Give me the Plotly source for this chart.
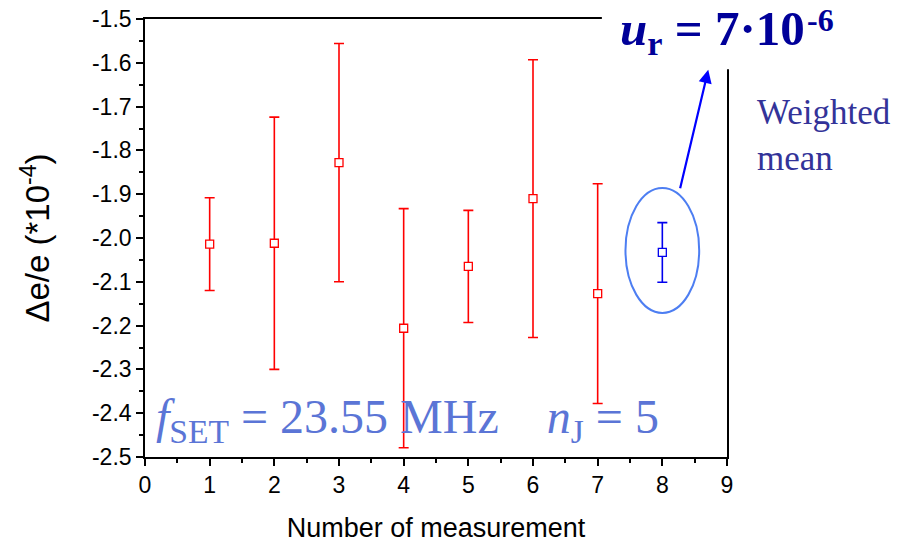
import plotly.graph_objects as go

meas_x = [1, 2, 3, 4, 5, 6, 7]
meas_y = [-2.014, -2.012, -1.828, -2.206, -2.065, -1.910, -2.127]
meas_err = [0.106, 0.288, 0.272, 0.273, 0.128, 0.317, 0.251]
mean_x = [8]
mean_y = [-2.033]
mean_err = [0.068]

x_ticks = [0, 1, 2, 3, 4, 5, 6, 7, 8, 9]
x_ticktext = ["0", "1", "2", "3", "4", "5", "6", "7", "8", "9"]
y_ticks = [-2.5, -2.4, -2.3, -2.2, -2.1, -2.0, -1.9, -1.8, -1.7, -1.6, -1.5]
y_ticktext = ["-2.5", "-2.4", "-2.3", "-2.2", "-2.1", "-2.0", "-1.9", "-1.8", "-1.7", "-1.6", "-1.5"]

fig = go.Figure()
fig.add_trace(go.Scatter(
    x=meas_x, y=meas_y, mode="markers",
    error_y=dict(type="data", array=meas_err, color="#ff0000", thickness=1.6, width=5),
    marker=dict(symbol="square", size=8, color="white", line=dict(color="#ff0000", width=1.3)),
    showlegend=False))
fig.add_trace(go.Scatter(
    x=mean_x, y=mean_y, mode="markers",
    error_y=dict(type="data", array=mean_err, color="#0000ee", thickness=1.6, width=5),
    marker=dict(symbol="square", size=8, color="white", line=dict(color="#0000ee", width=1.3)),
    showlegend=False))

# ellipse around weighted mean
fig.add_shape(type="circle", xref="x", yref="y", x0=7.43, x1=8.57, y0=-2.171, y1=-1.886,
              line=dict(color="#4d7ef2", width=2))
# arrow
fig.add_annotation(x=8.71, y=-1.616, ax=8.27, ay=-1.890, xref="x", yref="y", axref="x", ayref="y",
                   showarrow=True, arrowhead=2, arrowsize=1.2, arrowwidth=2.2, arrowcolor="#0000ff", text="")

# white box hiding the top-right corner of the frame
fig.add_shape(type="rect", xref="paper", yref="paper", x0=0.785, x1=1.05, y0=0.885, y1=1.043,
              fillcolor="white", line=dict(width=0), layer="above")
fig.add_annotation(
    x=1.1357, y=1.043, xref="paper", yref="paper", xanchor="right", yanchor="top",
    text="<b><i>u</i><sub>r</sub> = 7·10</b>", showarrow=False,
    font=dict(family="Liberation Serif", size=49, color="#000099"), borderpad=0)
fig.add_annotation(
    x=1.135, y=1.04, xref="paper", yref="paper", xanchor="left", yanchor="top",
    text="<b>-6</b>", showarrow=False,
    font=dict(family="Liberation Serif", size=32, color="#000099"), borderpad=0)
fig.add_annotation(
    x=1.048, y=0.835, xref="paper", yref="paper", xanchor="left", yanchor="top", align="left",
    text="Weighted<br>mean", showarrow=False,
    font=dict(family="Liberation Serif", size=35, color="#333399"))
fig.add_annotation(
    x=0.015, y=0.012, xref="paper", yref="paper", xanchor="left", yanchor="bottom", align="left",
    text="<i>f</i><sub>SET</sub> = 23.55 MHz\u00a0\u00a0\u00a0\u00a0<i>n</i><sub>J</sub> = 5", showarrow=False,
    font=dict(family="Liberation Serif", size=48, color="#5b75d6"))

axis_common = dict(showline=True, linecolor="black", linewidth=1.6, mirror=True, ticks="outside",
                   ticklen=7, tickwidth=1.5, tickcolor="black", showgrid=False, zeroline=False,
                   automargin=False,
                   tickfont=dict(family="Liberation Sans", size=23, color="black"))
fig.update_xaxes(range=[0, 9], tickvals=x_ticks, ticktext=x_ticktext,
                 minor=dict(ticks="outside", dtick=0.5, ticklen=4, tickwidth=1.5, tickcolor="black"),
                 title=dict(text="Number of measurement", font=dict(family="Liberation Sans", size=27, color="black"), standoff=24),
                 **axis_common)
fig.update_yaxes(range=[-2.5, -1.5], tickvals=y_ticks, ticktext=y_ticktext,
                 minor=dict(ticks="outside", dtick=0.05, ticklen=4, tickwidth=1.5, tickcolor="black"),
                 title=dict(text="Δe/e (*10<sup>-4</sup>)", font=dict(family="Liberation Sans", size=33, color="black"), standoff=32),
                 **axis_common)
fig.update_layout(width=898, height=543, margin=dict(l=145, r=171, t=19, b=86),
                  plot_bgcolor="white", paper_bgcolor="white")
fig.write_html("out.html")
